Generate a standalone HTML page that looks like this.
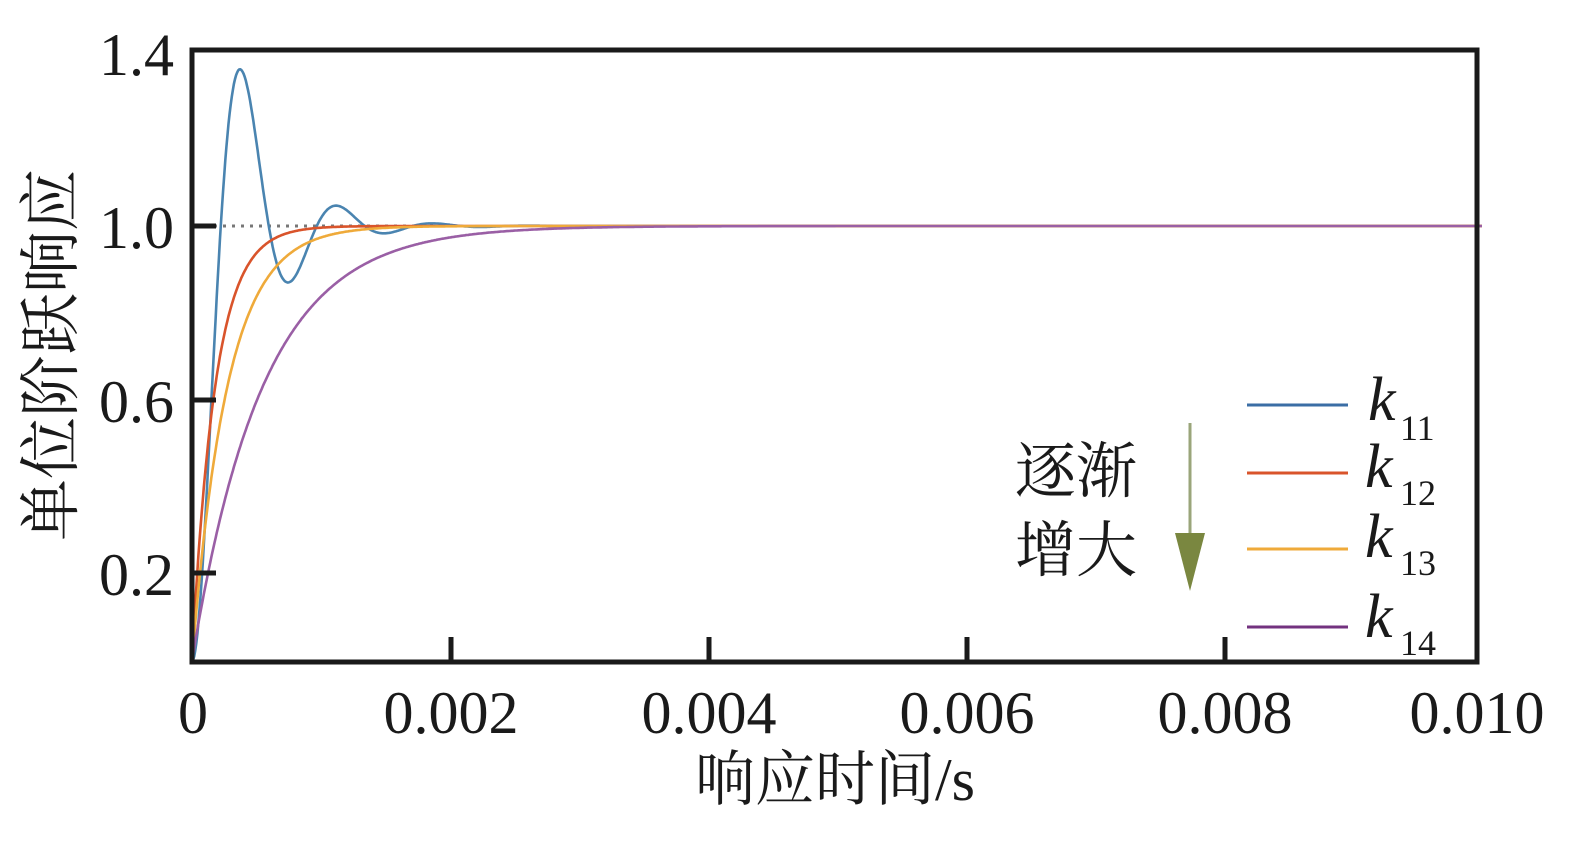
<!DOCTYPE html>
<html><head><meta charset="utf-8"><style>
body{margin:0;background:#fff;}
svg text{font-family:"Liberation Serif","Noto Serif CJK SC",serif;fill:#1a1a1a;}
</style></head><body>
<svg id="s" width="1586" height="837" xmlns="http://www.w3.org/2000/svg">
<line x1="214" y1="226" x2="455" y2="226" stroke="#777" stroke-width="3" stroke-dasharray="3,6"/>
<g id="curves" fill="none" stroke-width="2.6"></g>
<rect x="192" y="50" width="1285" height="612" fill="none" stroke="#1a1a1a" stroke-width="5"/>
<g stroke="#1a1a1a" stroke-width="5">
<line x1="192" y1="226" x2="216" y2="226"/><line x1="192" y1="400" x2="216" y2="400"/><line x1="192" y1="573" x2="216" y2="573"/>
<line x1="451" y1="662" x2="451" y2="637"/><line x1="709" y1="662" x2="709" y2="637"/><line x1="967" y1="662" x2="967" y2="637"/><line x1="1225" y1="662" x2="1225" y2="637"/>
</g>
<g font-size="60" text-anchor="end">
<text x="174" y="75">1.4</text><text x="174" y="248">1.0</text><text x="174" y="422">0.6</text><text x="174" y="595">0.2</text>
</g>
<g font-size="60" text-anchor="middle">
<text x="193" y="733">0</text><text x="451" y="733">0.002</text><text x="709" y="733">0.004</text><text x="967" y="733">0.006</text><text x="1225" y="733">0.008</text><text x="1477" y="733">0.010</text>
</g>
<text x="835" y="800" font-size="60" text-anchor="middle">响应时间/s</text>
<text transform="translate(72,355) rotate(-90)" font-size="62" text-anchor="middle">单位阶跃响应</text>
<g stroke-width="3">
<line x1="1247" y1="405" x2="1348" y2="405" stroke="#3b6ea5"/>
<line x1="1247" y1="473" x2="1348" y2="473" stroke="#d9542b"/>
<line x1="1247" y1="549" x2="1348" y2="549" stroke="#efaa3a"/>
<line x1="1247" y1="627" x2="1348" y2="627" stroke="#73327f"/>
</g>
<g font-size="62" font-style="italic"><text x="1368" y="420">k</text><text x="1365" y="487">k</text><text x="1365" y="557">k</text><text x="1365" y="637">k</text></g>
<g font-size="36"><text x="1400" y="440">11</text><text x="1400" y="505">12</text><text x="1400" y="575">13</text><text x="1400" y="655">14</text></g>
<text x="1015" y="492" font-size="61">逐渐</text>
<text x="1015" y="571" font-size="61">增大</text>
<line x1="1190" y1="423" x2="1190" y2="535" stroke="#9aa57a" stroke-width="3"/>
<polygon points="1175,533 1205,533 1190,591" fill="#7a8740"/>
</svg>
<script>
const X=t=>192+t/0.002*258, Y=v=>661-v*435;
const g=document.getElementById('curves');
function add(f,c){let d='';for(let i=0;i<=1200;i++){const t=i/1200*0.01;d+=(i?'L':'M')+X(t).toFixed(1)+','+Y(f(t)).toFixed(1);}
const p=document.createElementNS('http://www.w3.org/2000/svg','path');p.setAttribute('d',d);p.setAttribute('stroke',c);g.appendChild(p);}
const z=0.309,wd=8445,wn=wd/Math.sqrt(1-z*z),s=z*wn;
add(t=>1-Math.exp(-s*t)*(Math.cos(wd*t)+s/wd*Math.sin(wd*t)),'#4a84b0');
add(t=>1-Math.exp(-t/0.00018),'#d9542b');
add(t=>1-Math.exp(-t/0.000275),'#efaa3a');
add(t=>1-Math.exp(-t/0.00055),'#9a5fa5');
</script>
</body></html>
